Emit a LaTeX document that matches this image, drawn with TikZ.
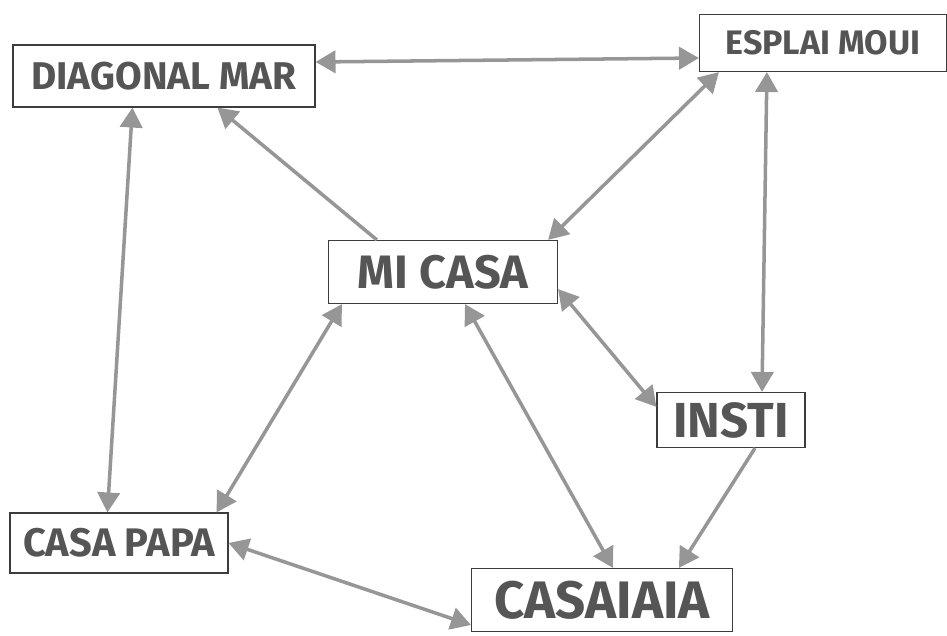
\documentclass[tikz,border=0pt]{standalone}
\usepackage{fontspec}
\setsansfont{Fira Sans}
\usetikzlibrary{arrows.meta, positioning}

\definecolor{inkgray}{RGB}{85, 85, 85}
\definecolor{penline}{RGB}{60, 60, 60}
\definecolor{arrowgray}{RGB}{150, 150, 150}

\tikzset{
  place/.style={draw=penline, line width=1pt, fill=white, text=inkgray,
    inner sep=0pt, font=\sffamily\bfseries},
  link/.style={draw=arrowgray, line width=3pt,
    -{Triangle[length=17pt, width=19pt]}},
  both/.style={link, {Triangle[length=17pt, width=19pt]}-{Triangle[length=17pt, width=19pt]}}
}

\begin{document}
\begin{tikzpicture}[x=0.03cm, y=-0.03cm]
  \useasboundingbox (0, 0) rectangle (947, 635);

  % places
  \node[place, minimum width=9.06cm, minimum height=1.86cm, font=\sffamily\bfseries\fontsize{33}{34}\selectfont] (diag) at (164, 76) {DIAGONAL MAR};
  \node[place, minimum width=7.41cm, minimum height=1.71cm, font=\sffamily\bfseries\fontsize{29}{30}\selectfont] (esplai) at (823, 43) {ESPLAI MOUI};
  \node[place, minimum width=6.87cm, minimum height=1.89cm, font=\sffamily\bfseries\fontsize{40}{42}\selectfont] (micasa) at (443, 272) {MI CASA};
  \node[place, minimum width=4.44cm, minimum height=1.65cm, font=\sffamily\bfseries\fontsize{42}{44}\selectfont] (insti) at (731, 420) {INSTI};
  \node[place, minimum width=6.54cm, minimum height=1.80cm, font=\sffamily\bfseries\fontsize{34}{36}\selectfont] (papa) at (119, 543) {CASA PAPA};
  \node[place, minimum width=7.83cm, minimum height=1.89cm, font=\sffamily\bfseries\fontsize{45}{46}\selectfont] (iaia) at (602, 600) {CASAIAIA};

  % connections
  \draw[both] ([yshift=0.42cm]diag.east) -- ([yshift=-0.45cm]esplai.west);
  \draw[both] ([xshift=0.6cm]esplai.south west) -- ([xshift=-0.3cm]micasa.north east);
  \draw[both] ([xshift=2.04cm]esplai.south west) -- ([xshift=0.93cm]insti.north);
  \draw[link] ([xshift=1.47cm]micasa.north west) -- ([xshift=6.15cm]diag.south west);
  \draw[both] ([xshift=3.6cm]diag.south west) -- ([xshift=2.94cm]papa.north west);
  \draw[both] ([xshift=0.42cm]micasa.south west) -- ([xshift=-0.36cm]papa.north east);
  \draw[both] ([yshift=0.45cm]micasa.south east) -- ([yshift=-0.45cm]insti.north west);
  \draw[both] ([xshift=0.66cm]micasa.south) -- ([xshift=4.26cm]iaia.north west);
  \draw[link] ([xshift=0.72cm]insti.south) -- ([xshift=6.24cm]iaia.north west);
  \draw[both] (papa.east) -- ([yshift=-0.75cm]iaia.west);
\end{tikzpicture}
\end{document}
